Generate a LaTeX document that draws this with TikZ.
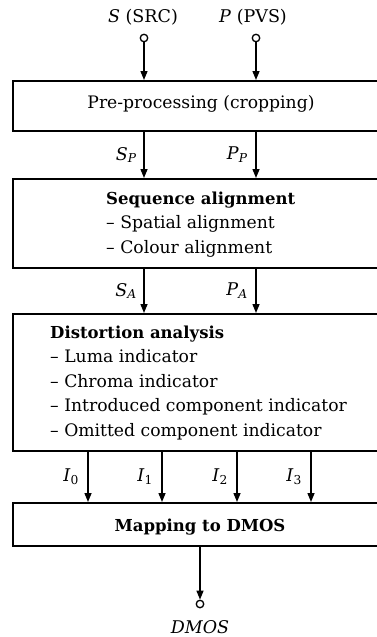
\documentclass[tikz,border=0pt]{standalone}
\usepackage{fontspec}
\setmainfont{DejaVu Serif}
\usetikzlibrary{arrows.meta}
\newcommand{\hd}[1]{{\fontsize{16.5}{24.5}\selectfont\bfseries #1}}
\begin{document}
\begin{tikzpicture}[x=1pt,y=-1pt,
  box/.style={draw, line width=1.5pt, minimum width=380pt, anchor=north west, inner sep=0pt},
  arr/.style={line width=1.4pt, -{Triangle[length=9pt,width=7pt]}},
  term/.style={circle, draw, line width=1.3pt, inner sep=0pt, minimum size=7.5pt, fill=white},
  txt/.style={font=\fontsize{17.2}{24.5}\selectfont, inner sep=0pt, align=left},
  lbl/.style={font=\fontsize{17.5}{18}\selectfont, inner sep=0pt}
]
\useasboundingbox (0,0) rectangle (377,637);
\begin{scope}
\clip (0,0) rectangle (377,637);
\node[box, minimum height=50pt] (b1) at (12,80) {};
\node[box, minimum height=89pt] (b2) at (12,178) {};
\node[box, minimum height=137pt] (b3) at (12,313) {};
\node[box, minimum height=43pt] (b4) at (12,502) {};
\end{scope}

% texts in boxes
\node[txt] (t1) at (201,104) {Pre-processing (cropping)};
\node[txt, anchor=north west] (t2) at (106,191.5) {\hd{Sequence alignment}\\– Spatial alignment\\– Colour alignment};
\node[txt, anchor=north west] (t3) at (50,325.5) {\hd{Distortion analysis}\\– Luma indicator\\– Chroma indicator\\– Introduced component indicator\\– Omitted component indicator};
\node[txt] (t4) at (200,527) {\hd{Mapping to DMOS}};

% inputs
\node[lbl] (ls) at (143,17) {\textit{S} (SRC)};
\node[lbl] (lp) at (253,17) {\textit{P} (PVS)};
\node[term] (cs) at (144,38) {};
\node[term] (cp) at (256,38) {};
\draw[arr] (cs) -- (cs |- b1.north);
\draw[arr] (cp) -- (cp |- b1.north);

% b1 -> b2
\coordinate (sp) at (144,130);
\coordinate (pp) at (256,130);
\draw[arr] (sp) -- (sp |- b2.north);
\draw[arr] (pp) -- (pp |- b2.north);
\node[lbl, anchor=east] (lsp) at (137,155) {\textit{S}\textsubscript{\textit{P}}};
\node[lbl, anchor=east] (lpp) at (248,155) {\textit{P}\textsubscript{\textit{P}}};

% b2 -> b3
\coordinate (sa) at (144,267);
\coordinate (pa) at (256,267);
\draw[arr] (sa) -- (sa |- b3.north);
\draw[arr] (pa) -- (pa |- b3.north);
\node[lbl, anchor=east] (lsa) at (137,291) {\textit{S}\textsubscript{\textit{A}}};
\node[lbl, anchor=east] (lpa) at (248,291) {\textit{P}\textsubscript{\textit{A}}};

% b3 -> b4
\foreach \x/\i in {88/0,162/1,237/2,311/3}{
  \coordinate (i\i) at (\x,450);
  \draw[arr] (i\i) -- (i\i |- b4.north);
  \node[lbl, anchor=east] (li\i) at (\x-9,477) {\textit{I}\textsubscript{\i}};
}

% output
\node[term] (cd) at (200,604) {};
\coordinate (d0) at (200,545);
\draw[arr] (d0) -- (cd);
\node[lbl] (ld) at (200,627) {\textit{DMOS}};
\end{tikzpicture}
\end{document}
